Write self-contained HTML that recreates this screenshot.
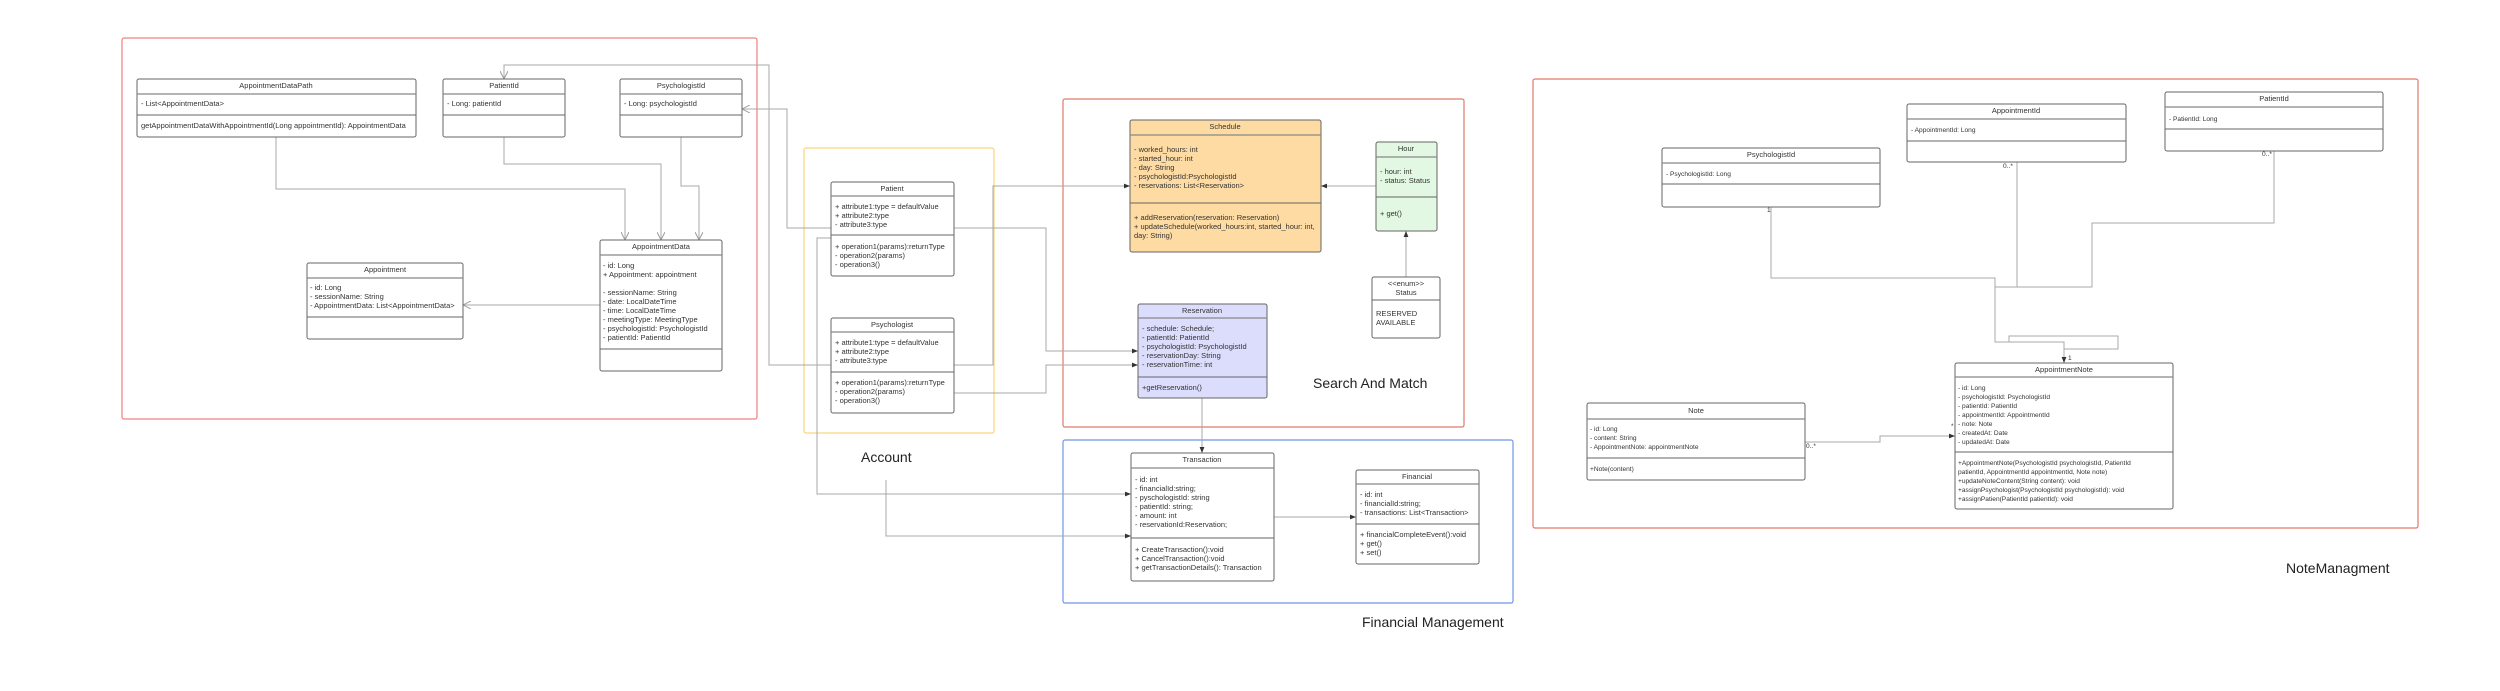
<!DOCTYPE html>
<html><head><meta charset="utf-8"><style>
html,body{margin:0;padding:0;background:#fff;}
svg{display:block;font-family:"Liberation Sans",sans-serif;}
.t{font-size:7.5px;fill:#333;}
.s{font-size:6.6px;fill:#333;}
.h{font-size:7.5px;fill:#333;text-anchor:middle;}
.big{font-size:14px;fill:#222;}
.b{stroke:#666;stroke-width:1;}
.sep{stroke:#888;stroke-width:1.2;}
.c{fill:none;stroke:#a8a8a8;stroke-width:1;}
.cd{fill:none;stroke:#777;stroke-width:1;}
</style></head><body>
<svg width="2500" height="691" viewBox="0 0 2500 691" xmlns="http://www.w3.org/2000/svg">
<defs>
<marker id="o" viewBox="0 0 10 10" refX="10" refY="5" markerWidth="8" markerHeight="8" orient="auto-start-reverse" markerUnits="userSpaceOnUse"><path d="M0 0 L10 5 L0 10" fill="none" stroke="#999" stroke-width="1.2"/></marker>
<marker id="f" viewBox="0 0 10 10" refX="10" refY="5" markerWidth="6" markerHeight="6" orient="auto-start-reverse" markerUnits="userSpaceOnUse"><path d="M0 1 L10 5 L0 9z" fill="#333"/></marker>
</defs>

<!-- group frames -->
<rect x="122" y="38" width="635" height="381" rx="2" fill="none" stroke="#f08080" stroke-width="1.2"/>
<rect x="804" y="148" width="190" height="285" rx="2" fill="none" stroke="#fad67a" stroke-width="1.2"/>
<rect x="1063" y="99" width="401" height="328" rx="2" fill="none" stroke="#e07a6a" stroke-width="1.2"/>
<rect x="1063" y="440" width="450" height="163" rx="2" fill="none" stroke="#6f95e8" stroke-width="1.2"/>
<rect x="1533" y="79" width="885" height="449" rx="2" fill="none" stroke="#e07a6a" stroke-width="1.2"/>

<text class="big" x="1313" y="388">Search And Match</text>
<text class="big" x="861" y="462">Account</text>
<text class="big" x="1362" y="627">Financial Management</text>
<text class="big" x="2286" y="573">NoteManagment</text>

<!-- connectors left -->
<path class="c" d="M276 137 V189 H625 V240" marker-end="url(#o)"/>
<path class="c" d="M504 137 V164 H661 V240" marker-end="url(#o)"/>
<path class="c" d="M681 137 V186 H699 V240" marker-end="url(#o)"/>
<path class="c" d="M600 305 H463" marker-end="url(#o)"/>
<path class="c" d="M831 365 H769 V65 H504 V79" marker-end="url(#o)"/>
<path class="c" d="M831 228 H787 V109 H742" marker-end="url(#o)"/>
<!-- account to search -->
<path class="c" d="M954 365 H993 V186 H1130" marker-end="url(#f)"/>
<path class="c" d="M954 228 H1046 V351 H1138" marker-end="url(#f)"/>
<path class="c" d="M954 393 H1046 V365 H1138" marker-end="url(#f)"/>
<path class="c" d="M1376 186 H1321" marker-end="url(#f)"/>
<path class="c" d="M1406 277 V231" marker-end="url(#f)"/>
<path class="c" d="M1202 398 V453" marker-end="url(#f)"/>
<path class="c" d="M831 238 H817 V494 H1131" marker-end="url(#f)"/>
<path class="c" d="M886 480 V536 H1131" marker-end="url(#f)"/>
<path class="c" d="M1274 517 H1356" marker-end="url(#f)"/>
<!-- note mgmt -->
<path class="c" d="M1771 207 V278 H1995 V342 H2064 V363" marker-end="url(#f)"/>
<path class="c" d="M2017 162 V287 H1995"/>
<path class="c" d="M2274 151 V223 H2092 V287 H2017"/>
<path class="c" d="M2009 342 V336 H2118 V349 H2064"/>
<path class="c" d="M1805 442 H1880 V436 H1955" marker-end="url(#f)"/>
<text class="s" x="1767" y="212">1</text>
<text class="s" x="2003" y="168">0..*</text>
<text class="s" x="2262" y="156">0..*</text>
<text class="s" x="2068" y="360">1</text>
<text class="s" x="1806" y="448">0..*</text>
<text class="s" x="1951" y="428">*</text>

<!-- boxes -->
<g>
<rect class="b" x="137" y="79" width="279" height="58" rx="2" fill="#fff"/>
<line class="sep" x1="137" y1="94" x2="416" y2="94"/><line class="b" x1="137" y1="115" x2="416" y2="115"/>
<text class="h" x="276" y="88">AppointmentDataPath</text>
<text class="t" x="141" y="106">- List&lt;AppointmentData&gt;</text>
<text class="t" x="141" y="128">getAppointmentDataWithAppointmentId(Long appointmentId): AppointmentData</text>
</g>
<g>
<rect class="b" x="443" y="79" width="122" height="58" rx="2" fill="#fff"/>
<line class="sep" x1="443" y1="94" x2="565" y2="94"/><line class="b" x1="443" y1="115" x2="565" y2="115"/>
<text class="h" x="504" y="88">PatientId</text>
<text class="t" x="447" y="106">- Long: patientId</text>
</g>
<g>
<rect class="b" x="620" y="79" width="122" height="58" rx="2" fill="#fff"/>
<line class="sep" x1="620" y1="94" x2="742" y2="94"/><line class="b" x1="620" y1="115" x2="742" y2="115"/>
<text class="h" x="681" y="88">PsychologistId</text>
<text class="t" x="624" y="106">- Long: psychologistId</text>
</g>
<g>
<rect class="b" x="600" y="240" width="122" height="131" rx="2" fill="#fff"/>
<line class="sep" x1="600" y1="255" x2="722" y2="255"/><line class="b" x1="600" y1="349" x2="722" y2="349"/>
<text class="h" x="661" y="249">AppointmentData</text>
<text class="t" x="603" y="268">- id: Long</text>
<text class="t" x="603" y="277">+ Appointment: appointment</text>
<text class="t" x="603" y="295">- sessionName: String</text>
<text class="t" x="603" y="304">- date: LocalDateTime</text>
<text class="t" x="603" y="313">- time: LocalDateTime</text>
<text class="t" x="603" y="322">- meetingType: MeetingType</text>
<text class="t" x="603" y="331">- psychologistId: PsychologistId</text>
<text class="t" x="603" y="340">- patientId: PatientId</text>
</g>
<g>
<rect class="b" x="307" y="263" width="156" height="76" rx="2" fill="#fff"/>
<line class="sep" x1="307" y1="278" x2="463" y2="278"/><line class="b" x1="307" y1="317" x2="463" y2="317"/>
<text class="h" x="385" y="272">Appointment</text>
<text class="t" x="310" y="290">- id: Long</text>
<text class="t" x="310" y="299">- sessionName: String</text>
<text class="t" x="310" y="308">- AppointmentData: List&lt;AppointmentData&gt;</text>
</g>
<g>
<rect class="b" x="831" y="182" width="123" height="94" rx="2" fill="#fff"/>
<line class="sep" x1="831" y1="196" x2="954" y2="196"/><line class="b" x1="831" y1="235" x2="954" y2="235"/>
<text class="h" x="892" y="191">Patient</text>
<text class="t" x="835" y="209">+ attribute1:type = defaultValue</text>
<text class="t" x="835" y="218">+ attribute2:type</text>
<text class="t" x="835" y="227">- attribute3:type</text>
<text class="t" x="835" y="249">+ operation1(params):returnType</text>
<text class="t" x="835" y="258">- operation2(params)</text>
<text class="t" x="835" y="267">- operation3()</text>
</g>
<g>
<rect class="b" x="831" y="318" width="123" height="95" rx="2" fill="#fff"/>
<line class="sep" x1="831" y1="332" x2="954" y2="332"/><line class="b" x1="831" y1="372" x2="954" y2="372"/>
<text class="h" x="892" y="327">Psychologist</text>
<text class="t" x="835" y="345">+ attribute1:type = defaultValue</text>
<text class="t" x="835" y="354">+ attribute2:type</text>
<text class="t" x="835" y="363">- attribute3:type</text>
<text class="t" x="835" y="385">+ operation1(params):returnType</text>
<text class="t" x="835" y="394">- operation2(params)</text>
<text class="t" x="835" y="403">- operation3()</text>
</g>
<g>
<rect class="b" x="1130" y="120" width="191" height="132" rx="2" fill="#fedba3"/>
<line class="sep" x1="1130" y1="135" x2="1321" y2="135"/><line class="b" x1="1130" y1="203" x2="1321" y2="203"/>
<text class="h" x="1225" y="129">Schedule</text>
<text class="t" x="1134" y="152">- worked_hours: int</text>
<text class="t" x="1134" y="161">- started_hour: int</text>
<text class="t" x="1134" y="170">- day: String</text>
<text class="t" x="1134" y="179">- psychologistId:PsychologistId</text>
<text class="t" x="1134" y="188">- reservations: List&lt;Reservation&gt;</text>
<text class="t" x="1134" y="220">+ addReservation(reservation: Reservation)</text>
<text class="t" x="1134" y="229">+ updateSchedule(worked_hours:int, started_hour: int,</text>
<text class="t" x="1134" y="238">day: String)</text>
</g>
<g>
<rect class="b" x="1376" y="142" width="61" height="89" rx="2" fill="#e2f8e2"/>
<line class="sep" x1="1376" y1="157" x2="1437" y2="157"/><line class="b" x1="1376" y1="197" x2="1437" y2="197"/>
<text class="h" x="1406" y="151">Hour</text>
<text class="t" x="1380" y="174">- hour: int</text>
<text class="t" x="1380" y="183">- status: Status</text>
<text class="t" x="1380" y="216">+ get()</text>
</g>
<g>
<rect class="b" x="1372" y="277" width="68" height="61" rx="2" fill="#fff"/>
<line class="b" x1="1372" y1="300" x2="1440" y2="300"/>
<text class="h" x="1406" y="286">&lt;&lt;enum&gt;&gt;</text>
<text class="h" x="1406" y="295">Status</text>
<text class="t" x="1376" y="316">RESERVED</text>
<text class="t" x="1376" y="325">AVAILABLE</text>
</g>
<g>
<rect class="b" x="1138" y="304" width="129" height="94" rx="2" fill="#dcdcfc"/>
<line class="sep" x1="1138" y1="318" x2="1267" y2="318"/><line class="b" x1="1138" y1="377" x2="1267" y2="377"/>
<text class="h" x="1202" y="313">Reservation</text>
<text class="t" x="1142" y="331">- schedule: Schedule;</text>
<text class="t" x="1142" y="340">- patientId: PatientId</text>
<text class="t" x="1142" y="349">- psychologistId: PsychologistId</text>
<text class="t" x="1142" y="358">- reservationDay: String</text>
<text class="t" x="1142" y="367">- reservationTime: int</text>
<text class="t" x="1142" y="390">+getReservation()</text>
</g>
<g>
<rect class="b" x="1131" y="453" width="143" height="128" rx="2" fill="#fff"/>
<line class="sep" x1="1131" y1="468" x2="1274" y2="468"/><line class="b" x1="1131" y1="538" x2="1274" y2="538"/>
<text class="h" x="1202" y="462">Transaction</text>
<text class="t" x="1135" y="482">- id: int</text>
<text class="t" x="1135" y="491">- financialId:string;</text>
<text class="t" x="1135" y="500">- pyschologistId: string</text>
<text class="t" x="1135" y="509">- patientId: string;</text>
<text class="t" x="1135" y="518">- amount: int</text>
<text class="t" x="1135" y="527">- reservationId:Reservation;</text>
<text class="t" x="1135" y="552">+ CreateTransaction():void</text>
<text class="t" x="1135" y="561">+ CancelTransaction():void</text>
<text class="t" x="1135" y="570">+ getTransactionDetails(): Transaction</text>
</g>
<g>
<rect class="b" x="1356" y="470" width="123" height="94" rx="2" fill="#fff"/>
<line class="sep" x1="1356" y1="484" x2="1479" y2="484"/><line class="b" x1="1356" y1="524" x2="1479" y2="524"/>
<text class="h" x="1417" y="479">Financial</text>
<text class="t" x="1360" y="497">- id: int</text>
<text class="t" x="1360" y="506">- financialId:string;</text>
<text class="t" x="1360" y="515">- transactions: List&lt;Transaction&gt;</text>
<text class="t" x="1360" y="537">+ financialCompleteEvent():void</text>
<text class="t" x="1360" y="546">+ get()</text>
<text class="t" x="1360" y="555">+ set()</text>
</g>
<g>
<rect class="b" x="1662" y="148" width="218" height="59" rx="2" fill="#fff"/>
<line class="sep" x1="1662" y1="163" x2="1880" y2="163"/><line class="b" x1="1662" y1="184" x2="1880" y2="184"/>
<text class="h" x="1771" y="157">PsychologistId</text>
<text class="s" x="1666" y="176">- PsychologistId: Long</text>
</g>
<g>
<rect class="b" x="1907" y="104" width="219" height="58" rx="2" fill="#fff"/>
<line class="sep" x1="1907" y1="119" x2="2126" y2="119"/><line class="b" x1="1907" y1="141" x2="2126" y2="141"/>
<text class="h" x="2016" y="113">AppointmentId</text>
<text class="s" x="1911" y="132">- AppointmentId: Long</text>
</g>
<g>
<rect class="b" x="2165" y="92" width="218" height="59" rx="2" fill="#fff"/>
<line class="sep" x1="2165" y1="107" x2="2383" y2="107"/><line class="b" x1="2165" y1="129" x2="2383" y2="129"/>
<text class="h" x="2274" y="101">PatientId</text>
<text class="s" x="2169" y="121">- PatientId: Long</text>
</g>
<g>
<rect class="b" x="1955" y="363" width="218" height="146" rx="2" fill="#fff"/>
<line class="sep" x1="1955" y1="377" x2="2173" y2="377"/><line class="b" x1="1955" y1="452" x2="2173" y2="452"/>
<text class="h" x="2064" y="372">AppointmentNote</text>
<text class="s" x="1958" y="390">- id: Long</text>
<text class="s" x="1958" y="399">- psychologistId: PsychologistId</text>
<text class="s" x="1958" y="408">- patientId: PatientId</text>
<text class="s" x="1958" y="417">- appointmentId: AppointmentId</text>
<text class="s" x="1958" y="426">- note: Note</text>
<text class="s" x="1958" y="435">- createdAt: Date</text>
<text class="s" x="1958" y="444">- updatedAt: Date</text>
<text class="s" x="1958" y="465">+AppointmentNote(PsychologistId psychologistId, PatientId</text>
<text class="s" x="1958" y="474">patientId, AppointmentId appointmentId, Note note)</text>
<text class="s" x="1958" y="483">+updateNoteContent(String content): void</text>
<text class="s" x="1958" y="492">+assignPsychologist(PsychologistId psychologistId): void</text>
<text class="s" x="1958" y="501">+assignPatien(PatientId patientId): void</text>
</g>
<g>
<rect class="b" x="1587" y="403" width="218" height="77" rx="2" fill="#fff"/>
<line class="sep" x1="1587" y1="419" x2="1805" y2="419"/><line class="b" x1="1587" y1="458" x2="1805" y2="458"/>
<text class="h" x="1696" y="413">Note</text>
<text class="s" x="1590" y="431">- id: Long</text>
<text class="s" x="1590" y="440">- content: String</text>
<text class="s" x="1590" y="449">- AppointmentNote: appointmentNote</text>
<text class="s" x="1590" y="471">+Note(content)</text>
</g>
</svg>
</body></html>
